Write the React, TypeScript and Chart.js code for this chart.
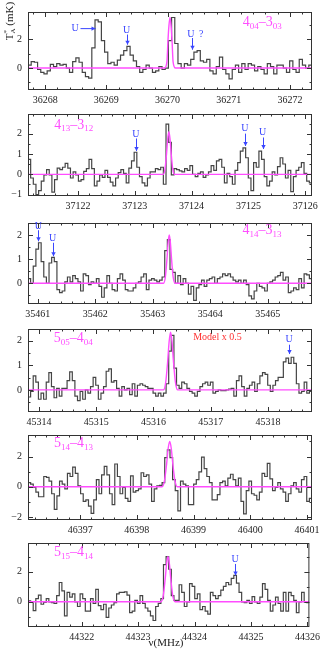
import React, { useEffect, useRef } from 'react';
import { Chart, registerables } from 'chart.js';
Chart.register(...registerables);

const FONT = "'Liberation Serif', 'DejaVu Serif', serif";
const BLUE = '#3a46ff';
const MAGENTA = '#ff4dff';
const RED = '#ff3030';
const INK = '#333333';

// ---------- Panel 1 : 4(04)-3(03) ----------
const p1Freq = [36267.72, 36272.36];
const p1Values = [0.2, 0.45, 0.4, -0.1, -0.3, -0.4, -0.2, 0.25, 0.1, 0.3,
  0.2, 0.25, 0.0, -0.3, 0.45, 0.7, 0.4, -0.3, -0.6, -0.7,
  1.4, 3.33, 3.2, 1.9, 1.1, 0.3, 0.4, 0.2, 0.55, 0.9,
  1.2, 1.5, 0.9, 0.5, 0.1, -0.3, -0.1, 0.2, 0.0, -0.3,
  -0.2, 0.1, -0.1, 0.0, 1.9, 3.5, 1.7, 0.3, 0.0, 0.3,
  0.2, 0.6, 1.1, 1.2, 0.5, 0.4, 0.6, -0.2, -0.4, 0.1,
  0.75, -0.1, -0.4, -0.75, -0.1, 0.2, -0.3, 0.3, -0.1, 0.3,
  0.2, -0.2, 0.1, -0.1, -0.4, 0.3, 0.1, -0.4, 0.2, 0.2,
  0.0, -0.3, 0.5, -0.1, -0.3, 0.6, 0.2, 0.0, 0.2];
const p1XTicks = [36268, 36269, 36270, 36271, 36272];
const p1YTicks = [0, 2];
const p1YRange = [-1.52, 3.88];
const p1ModelX = [36267.72, 36269.95, 36269.99, 36270.005, 36270.022, 36270.04, 36270.058, 36270.075, 36270.09, 36270.13, 36272.36];
const p1ModelY = [0, 0, 0.45, 1.75, 2.9, 3.5, 2.9, 1.75, 0.45, 0, 0];
const p1Label = ['4', '04', '3', '03'];

// ---------- Panel 2 : 4(13)-3(12) ----------
const p2Freq = [37121.12, 37126.12];
const p2Values = [0.74, -0.18, -0.49, -1.0, -0.8, -0.34, -0.03, 0.23, -0.03, -0.88,
  -0.26, 0.31, 0.23, 0.35, 0.54, 0.31, -0.18, 0.12, -0.03, -0.34,
  -0.26, 0.15, 0.28, 0.74, 0.28, -0.57, -0.34, -0.03, -0.15, 0.2,
  -0.15, -0.38, -0.57, -0.18, 0.08, 0.23, 0.05, -0.42, 0.31, 0.66,
  1.09, 0.35, -0.11, -0.42, -0.57, -0.18, 0.12, 0.12, 0.28, 0.23,
  0.35, -0.49, 2.48, 1.58, -0.03, 0.28, 0.23, 0.17, 0.12, 0.28,
  0.2, 0.43, 0.0, -0.11, 0.05, 0.12, -0.15, -0.03, 0.12, 0.43,
  0.2, 0.66, 0.74, 0.35, -0.42, 0.05, -0.11, -0.49, 0.2, 0.58,
  1.15, 1.31, 0.82, -0.18, -0.8, 0.58, 0.35, 1.15, 0.74, -0.11,
  -0.57, -0.34, 0.12, -0.03, 0.38, 0.82, 0.51, -0.18, 0.2, -0.85,
  -0.11, 0.2, 0.35, 0.58, 0.05, -0.34, -0.42];
const p2XTicks = [37122, 37123, 37124, 37125, 37126];
const p2YTicks = [-1, 0, 1, 2];
const p2YRange = [-1.07, 2.98];
const p2ModelX = [37121.12, 37123.50, 37123.532, 37123.56, 37123.58, 37123.60, 37123.62, 37123.64, 37123.668, 37123.70, 37126.12];
const p2ModelY = [0, 0, 0.27, 1.05, 1.76, 2.1, 1.76, 1.05, 0.27, 0, 0];
const p2Label = ['4', '13', '3', '12'];

// ---------- Panel 3 : 4(14)-3(13) ----------
const p3Freq = [35460.83, 35465.77];
const p3Values = [0.19, 0, 0.71, 1.42, 1.68, 0.9, 0.26, 0, 0.84, 1.07,
  0.9, -0.26, -0.39, -0.32, 0.06, 0.26, 0.06, 0.32, 0.19, 0.06,
  -0.32, 0.39, 0.32, -0.06, 0.06, 0, 0.19, -0.13, -0.58, -0.19,
  0.32, 0, -0.26, -0.32, 0.19, 0.39, 0.13, -0.26, -0.32, -0.32,
  -0.19, 0, 0.06, 0.26, 0.39, -0.26, 0.13, 0.19, 0.13, 0.06,
  0.13, 0.26, 1.35, 1.81, 0.58, 0.45, 0, 0.32, -0.06, 0.19,
  0, -0.45, -0.13, -0.71, -0.19, -0.06, 0.13, -0.13, 0.13, 0.19,
  0.26, 0, 0.19, 0.26, 0.39, 0.32, 0.39, 0.26, 0.13, 0.06,
  0.13, 0, 0.13, -0.06, -0.52, -0.65, -0.32, 0, -0.13, -0.19,
  -0.32, 0, 0.06, 0.13, 0.26, 0.32, 0.45, 0.13, 0.26, -0.39,
  -0.32, -0.19, -0.26, 0.19, -0.19, 0.39, 0.35, 0.19];
const p3XTicks = [35461, 35462, 35463, 35464, 35465];
const p3YTicks = [0, 1, 2];
const p3YRange = [-0.86, 2.5];
const p3ModelX = [35460.83, 35463.187, 35463.219, 35463.247, 35463.267, 35463.287, 35463.307, 35463.327, 35463.355, 35463.387, 35465.77];
const p3ModelY = [0, 0, 0.26, 1.0, 1.68, 2.0, 1.68, 1.0, 0.26, 0, 0];
const p3Label = ['4', '14', '3', '13'];

// ---------- Panel 4 : 5(05)-4(04) ----------
const p4Freq = [45313.81, 45318.77];
const p4Values = [-0.29, -0.06, 0.57, 0.32, -0.38, -0.13, -0.38, 0.32, 0.7, 0.13,
  -0.32, 0.06, -0.25, 0.06, 0.06, 0.38, 0.73, 0.38, -0.25, -0.44,
  -0.06, -0.38, 0, -0.13, 0.13, 0.51, 0.19, -0.38, -0.13, 0.13,
  0.76, 0.86, 0.32, 0.38, 0.06, -0.25, 0.13, 0, 0.06, -0.19,
  0.25, -0.25, 0.19, 0.25, 0.19, 0.13, 0.06, 0.06, -0.13, -0.25,
  -0.13, -0.25, -0.13, 0.25, 1.58, 2.22, 0.89, 0.19, 0.06, 0.32,
  0.25, 0.06, -0.06, -0.13, -0.25, -0.06, 0.13, 0.25, 0.32, 0.19,
  0.32, -0.13, -0.06, 0, -0.03, -0.03, 0, 0.03, 0.06, -0.25,
  0.38, 0.57, 0.13, -0.25, 0.06, 0.19, 0.32, -0.06, 0.25, 0.57,
  0.7, 0.63, 0.19, -0.06, 0.19, 0.38, 0.51, 0.51, 1.14, 1.29,
  1.08, 1.33, 1.08, 0.25, -0.13, -0.06, 0.32, -0.13, -0.06];
const p4XTicks = [45314, 45315, 45316, 45317, 45318];
const p4YTicks = [0, 1, 2];
const p4YRange = [-0.9, 2.48];
const p4ModelX = [45313.81, 45316.175, 45316.215, 45316.25, 45316.275, 45316.30, 45316.325, 45316.35, 45316.385, 45316.425, 45318.77];
const p4ModelY = [0, 0, 0.31, 1.18, 1.97, 2.35, 1.97, 1.18, 0.31, 0, 0];
const p4Label = ['5', '05', '4', '04'];

// ---------- Panel 5 : 5(14)-4(13) ----------
const p5Freq = [46396.08, 46401.09];
const p5Values = [0.27, 0.17, -0.04, -0.35, -0.66, -0.66, 0.68, 0.62, 0.37, -0.46,
  -1.49, -0.6, 0.37, 0.17, -0.14, 0.89, 0.68, 1.3, 0.89, 0.06,
  -0.46, -0.97, -0.87, -1.28, -1.76, -0.87, 0.48, -0.46, 0.79, 1.35,
  0.79, -0.46, -1.18, 1.51, 0.68, -0.46, -0.04, -0.77, -0.97, 0.72,
  -0.35, -0.25, -0.14, 0.93, 0.68, 0.79, 0.17, -0.97, -0.14, 0.06,
  0.1, 0.27, 1.93, 2.44, 1.93, 0.48, -0.25, -1.59, 0.37, 0.17,
  0.06, -1.18, -1.18, 0.17, 0.48, 0.99, 1.97, 1.2, 0.68, 0.27,
  -0.87, -0.87, -0.52, 0.27, 0.37, 0.06, 0.58, 0.83, 0.48, 0.06,
  0.58, -0.97, -1.8, -0.25, 0.37, -0.46, -0.56, -0.87, -0.35, 0.89,
  0.68, 1.55, 0.52, -0.25, -0.04, 0.27, -0.14, -0.35, -0.97, -0.46,
  0.06, 0.27, -0.14, -0.35, 0.48, 0.68, -0.97, -0.77];
const p5XTicks = [46397, 46398, 46399, 46400, 46401];
const p5YTicks = [-2, 0, 2];
const p5YRange = [-2.2, 3.43];
const p5ModelX = [46396.08, 46398.445, 46398.487, 46398.525, 46398.552, 46398.58, 46398.608, 46398.635, 46398.673, 46398.715, 46401.09];
const p5ModelY = [0, 0, 0.39, 1.5, 2.52, 3.0, 2.52, 1.5, 0.39, 0, 0];
const p5Label = ['5', '14', '4', '13'];

// ---------- Panel 6 : 5(15)-4(14) ----------
const p6Freq = [44321.05, 44326.035];
const p6Values = [0.06, -0.04, -0.58, 0.21, 0.45, -0.16, -0.04, 0.21, 0, -0.06,
  -0.1, 0.41, 1.28, 0.72, -0.93, 0.62, 0.31, 0.52, 0, -0.31,
  0.52, 0.21, -0.62, -0.62, 0.21, -0.1, 0.82, -0.25, -0.52, -0.16,
  -1.03, -0.41, -0.21, -0.06, 0.52, 0.62, 0.62, 0.66, 0.45, -0.72,
  -0.62, 0.1, -0.1, 0.41, -0.1, -0.41, -0.62, -0.93, -1.24, -0.31,
  -0.1, 0.21, 2.47, 2.99, 2.16, 0.41, 0.1, 0.1, 1.13, 0.62,
  -0.31, 0, 1.2, 1.03, 0.21, 0.52, -0.52, -0.31, -0.62, -0.82,
  0.62, 0.41, 0.21, 0.41, 0.78, 1.03, 1.28, 1.13, 1.55, 1.75,
  1.24, 0.62, 0, -0.06, 0.1, -0.1, 0.35, 0, -0.1, 0.31,
  1.2, 0.82, 0.1, -0.62, -0.21, 0.31, -0.1, -0.62, 0.62, -0.62,
  0.62, 0.41, 0.1, -0.72, 0, 0.62, 0, -0.06];
const p6XTicks = [44322, 44323, 44324, 44325, 44326];
const p6YTicks = [0, 2];
const p6YRange = [-1.67, 3.9];
const p6ModelX = [44321.05, 44323.405, 44323.445, 44323.48, 44323.505, 44323.53, 44323.555, 44323.58, 44323.615, 44323.655, 44326.035];
const p6ModelY = [0, 0, 0.39, 1.5, 2.52, 3.0, 2.52, 1.5, 0.39, 0, 0];
const p6Label = ['5', '15', '4', '14'];

type Note = { text: string; x: number; y: number; ax1?: number; ay1?: number; ax2?: number; ay2?: number };

interface PanelCfg {
  freq: number[]; values: number[]; xTicks: number[]; yTicks: number[]; yRange: number[];
  modelX: number[]; modelY: number[]; label: string[]; labelAt: number[];
  notes: Note[]; yMinor: number;
  canvasTop: number; padTop: number; plotH: number; axisH: number;
  yTitle?: boolean; xTitle?: boolean; redAt?: number[];
}

const panels: PanelCfg[] = [
  {
    freq: p1Freq, values: p1Values, xTicks: p1XTicks, yTicks: p1YTicks, yRange: p1YRange,
    modelX: p1ModelX, modelY: p1ModelY, label: p1Label, labelAt: [36271.23, 3.15],
    notes: [
      { text: 'U', x: 36268.49, y: 2.73, ax1: 36268.57, ay1: 2.73, ax2: 36268.81, ay2: 2.73 },
      { text: 'U', x: 36269.33, y: 2.6, ax1: 36269.33, ay1: 2.32, ax2: 36269.33, ay2: 1.62 },
      { text: 'U', x: 36270.38, y: 2.36, ax1: 36270.40, ay1: 2.08, ax2: 36270.40, ay2: 1.27 },
      { text: '?', x: 36270.55, y: 2.36 },
    ],
    yMinor: 1, canvasTop: 0, padTop: 1, plotH: 89, axisH: 18, yTitle: true,
  },
  {
    freq: p2Freq, values: p2Values, xTicks: p2XTicks, yTicks: p2YTicks, yRange: p2YRange,
    modelX: p2ModelX, modelY: p2ModelY, label: p2Label, labelAt: [37121.58, 2.43],
    notes: [
      { text: 'U', x: 37123.02, y: 1.97, ax1: 37123.02, ay1: 1.77, ax2: 37123.02, ay2: 1.15 },
      { text: 'U', x: 37124.94, y: 2.28, ax1: 37124.94, ay1: 2.01, ax2: 37124.94, ay2: 1.40 },
      { text: 'U', x: 37125.25, y: 2.07, ax1: 37125.25, ay1: 1.82, ax2: 37125.25, ay2: 1.25 },
    ],
    yMinor: 0.5, canvasTop: 102, padTop: 6, plotH: 88, axisH: 18,
  },
  {
    freq: p3Freq, values: p3Values, xTicks: p3XTicks, yTicks: p3YTicks, yRange: p3YRange,
    modelX: p3ModelX, modelY: p3ModelY, label: p3Label, labelAt: [35464.56, 2.2],
    notes: [
      { text: 'U', x: 35461.01, y: 2.36, ax1: 35461.01, ay1: 2.2, ax2: 35461.01, ay2: 1.74 },
      { text: 'U', x: 35461.26, y: 1.85, ax1: 35461.26, ay1: 1.68, ax2: 35461.26, ay2: 1.12 },
    ],
    yMinor: 0.5, canvasTop: 211, padTop: 6, plotH: 87, axisH: 18,
  },
  {
    freq: p4Freq, values: p4Values, xTicks: p4XTicks, yTicks: p4YTicks, yRange: p4YRange,
    modelX: p4ModelX, modelY: p4ModelY, label: p4Label, labelAt: [45314.26, 2.09],
    notes: [
      { text: 'U', x: 45318.37, y: 2.05, ax1: 45318.37, ay1: 1.84, ax2: 45318.37, ay2: 1.46 },
    ],
    yMinor: 0.5, canvasTop: 317, padTop: 6, plotH: 89, axisH: 18, redAt: [45317.12, 2.14],
  },
  {
    freq: p5Freq, values: p5Values, xTicks: p5XTicks, yTicks: p5YTicks, yRange: p5YRange,
    modelX: p5ModelX, modelY: p5ModelY, label: p5Label, labelAt: [46396.54, 2.86],
    notes: [],
    yMinor: 1, canvasTop: 423, padTop: 6, plotH: 91, axisH: 18,
  },
  {
    freq: p6Freq, values: p6Values, xTicks: p6XTicks, yTicks: p6YTicks, yRange: p6YRange,
    modelX: p6ModelX, modelY: p6ModelY, label: p6Label, labelAt: [44321.51, 3.25],
    notes: [
      { text: 'U', x: 44324.72, y: 2.84, ax1: 44324.72, ay1: 2.51, ax2: 44324.72, ay2: 1.75 },
    ],
    yMinor: 1, canvasTop: 531, padTop: 6, plotH: 90, axisH: 24, xTitle: true,
  },
];

function drawArrow(ctx: CanvasRenderingContext2D, x1: number, y1: number, x2: number, y2: number) {
  ctx.beginPath();
  ctx.moveTo(x1, y1);
  ctx.lineTo(x2, y2);
  ctx.stroke();
  const a = Math.atan2(y2 - y1, x2 - x1);
  const L = 4, W = 2.2;
  ctx.beginPath();
  ctx.moveTo(x2, y2);
  ctx.lineTo(x2 - L * Math.cos(a) + W * Math.sin(a), y2 - L * Math.sin(a) - W * Math.cos(a));
  ctx.lineTo(x2 - L * Math.cos(a) - W * Math.sin(a), y2 - L * Math.sin(a) + W * Math.cos(a));
  ctx.closePath();
  ctx.fill();
}

function makeDecor(cfg: PanelCfg) {
  return {
    id: 'decor',
    afterDatasetsDraw(chart: any) {
      const ctx: CanvasRenderingContext2D = chart.ctx;
      const { left, right, top, bottom } = chart.chartArea;
      const xs = chart.scales.x, ys = chart.scales.y;
      ctx.save();
      // frame
      ctx.strokeStyle = INK;
      ctx.lineWidth = 1;
      ctx.strokeRect(left + 0.5, top + 0.5, right - left - 1, bottom - top - 1);
      // inward ticks
      ctx.beginPath();
      const k0 = Math.ceil(xs.min * 5), k1 = Math.floor(xs.max * 5);
      for (let k = k0; k <= k1; k++) {
        const px = Math.round(xs.getPixelForValue(k / 5)) + 0.5;
        const len = k % 5 === 0 ? 5 : 2.5;
        ctx.moveTo(px, bottom); ctx.lineTo(px, bottom - len);
        ctx.moveTo(px, top); ctx.lineTo(px, top + len);
      }
      const j0 = Math.ceil(ys.min / cfg.yMinor - 1e-9), j1 = Math.floor(ys.max / cfg.yMinor + 1e-9);
      for (let j = j0; j <= j1; j++) {
        const v = j * cfg.yMinor;
        const py = Math.round(ys.getPixelForValue(v)) + 0.5;
        const len = cfg.yTicks.some((t) => Math.abs(t - v) < 1e-6) ? 5 : 2.5;
        ctx.moveTo(left, py); ctx.lineTo(left + len, py);
        ctx.moveTo(right, py); ctx.lineTo(right - len, py);
      }
      ctx.stroke();

      // transition label (magenta, with subscripts)
      ctx.fillStyle = MAGENTA;
      ctx.textAlign = 'left';
      ctx.textBaseline = 'middle';
      let lx = xs.getPixelForValue(cfg.labelAt[0]);
      const ly = ys.getPixelForValue(cfg.labelAt[1]);
      const parts: [string, boolean][] = [
        [cfg.label[0], false], [cfg.label[1], true], ['\u2013' + cfg.label[2], false], [cfg.label[3], true],
      ];
      for (const [t, sub] of parts) {
        ctx.font = sub ? `9px ${FONT}` : `14px ${FONT}`;
        ctx.fillText(t, lx, sub ? ly + 4 : ly);
        lx += ctx.measureText(t).width;
      }

      // U notes
      ctx.fillStyle = BLUE;
      ctx.strokeStyle = BLUE;
      ctx.lineWidth = 1;
      ctx.font = `10px ${FONT}`;
      ctx.textAlign = 'center';
      for (const n of cfg.notes) {
        ctx.fillText(n.text, xs.getPixelForValue(n.x), ys.getPixelForValue(n.y));
        if (n.ax1 !== undefined) {
          drawArrow(ctx,
            Math.round(xs.getPixelForValue(n.ax1!)) + 0.5, ys.getPixelForValue(n.ay1!),
            Math.round(xs.getPixelForValue(n.ax2!)) + 0.5, ys.getPixelForValue(n.ay2!));
        }
      }

      if (cfg.redAt) {
        ctx.fillStyle = RED;
        ctx.font = `10px ${FONT}`;
        ctx.textAlign = 'center';
        ctx.fillText('Model x 0.5', xs.getPixelForValue(cfg.redAt[0]), ys.getPixelForValue(cfg.redAt[1]));
      }

      if (cfg.yTitle) {
        ctx.save();
        ctx.fillStyle = '#222';
        ctx.translate(10, 21);
        ctx.rotate(-Math.PI / 2);
        ctx.textAlign = 'left';
        ctx.textBaseline = 'middle';
        ctx.font = `11px ${FONT}`;
        const wT = ctx.measureText('T').width;
        ctx.font = `7px ${FONT}`;
        const wS = ctx.measureText('A').width;
        ctx.font = `11px ${FONT}`;
        const wR = ctx.measureText(' (mK)').width;
        let x = -(wT + wS + wR) / 2;
        ctx.fillText('T', x, 0);
        x += wT;
        ctx.font = `7px ${FONT}`;
        ctx.fillText('*', x, -4);
        ctx.fillText('A', x, 3);
        x += wS;
        ctx.font = `11px ${FONT}`;
        ctx.fillText(' (mK)', x, 0);
        ctx.restore();
      }

      if (cfg.xTitle) {
        ctx.fillStyle = '#222';
        ctx.font = `11px ${FONT}`;
        ctx.textAlign = 'center';
        ctx.textBaseline = 'middle';
        ctx.fillText('\u03bd(MHz)', 166, bottom + 16);
      }
      ctx.restore();
    },
  };
}

function Panel({ cfg }: { cfg: PanelCfg }) {
  const ref = useRef<HTMLCanvasElement>(null);
  const h = cfg.padTop + cfg.plotH + cfg.axisH;
  useEffect(() => {
    if (!ref.current) return;
    const n = cfg.values.length;
    const df = (cfg.freq[1] - cfg.freq[0]) / n;
    const spec = cfg.values.map((v, i) => ({ x: cfg.freq[0] + df * (i + 0.5), y: v }));
    spec.unshift({ x: cfg.freq[0], y: cfg.values[0] });
    spec.push({ x: cfg.freq[1], y: cfg.values[n - 1] });
    const model = cfg.modelX.map((x, i) => ({ x, y: cfg.modelY[i] }));
    const tickFont = { family: FONT, size: 10 };
    const chart = new Chart(ref.current, {
      type: 'line',
      data: {
        datasets: [
          { data: model, borderColor: MAGENTA, borderWidth: 1.4, pointRadius: 0, cubicInterpolationMode: 'monotone', fill: false, order: 1 } as any,
          { data: spec, stepped: 'middle', borderColor: '#454545', borderWidth: 1.2, pointRadius: 0, fill: false, order: 2 } as any,
        ],
      },
      options: {
        animation: false,
        responsive: false,
        maintainAspectRatio: false,
        devicePixelRatio: 1,
        layout: { padding: { top: cfg.padTop, right: 12, left: 0, bottom: 0 } },
        plugins: { legend: { display: false }, tooltip: { enabled: false } },
        events: [],
        scales: {
          x: {
            type: 'linear', min: cfg.freq[0], max: cfg.freq[1],
            afterBuildTicks: (s: any) => { s.ticks = cfg.xTicks.map((v) => ({ value: v })); },
            afterFit: (s: any) => { s.height = cfg.axisH; },
            grid: { display: false, drawTicks: false },
            border: { display: false },
            ticks: { color: '#222', font: tickFont, padding: 4, autoSkip: false, maxRotation: 0, callback: (v: any) => String(v) },
          },
          y: {
            type: 'linear', min: cfg.yRange[0], max: cfg.yRange[1],
            afterBuildTicks: (s: any) => { s.ticks = cfg.yTicks.map((v) => ({ value: v })); },
            afterFit: (s: any) => { s.width = 28; },
            grid: { display: false, drawTicks: false },
            border: { display: false },
            ticks: { color: '#222', font: tickFont, padding: 6, autoSkip: false, callback: (v: any) => (v < 0 ? '\u2212' + Math.abs(v) : String(v)) },
          },
        },
      } as any,
      plugins: [makeDecor(cfg)],
    });
    return () => chart.destroy();
  }, [cfg]);
  return (
    <canvas
      ref={ref}
      width={324}
      height={h}
      style={{ position: 'absolute', left: 0, top: cfg.canvasTop, width: 324, height: h }}
    />
  );
}

export default function App() {
  return (
    <div style={{ position: 'fixed', left: 0, top: 0, width: 324, height: 651, background: '#fff', overflow: 'hidden' }}>
      {panels.map((p, i) => <Panel key={i} cfg={p} />)}
    </div>
  );
}
